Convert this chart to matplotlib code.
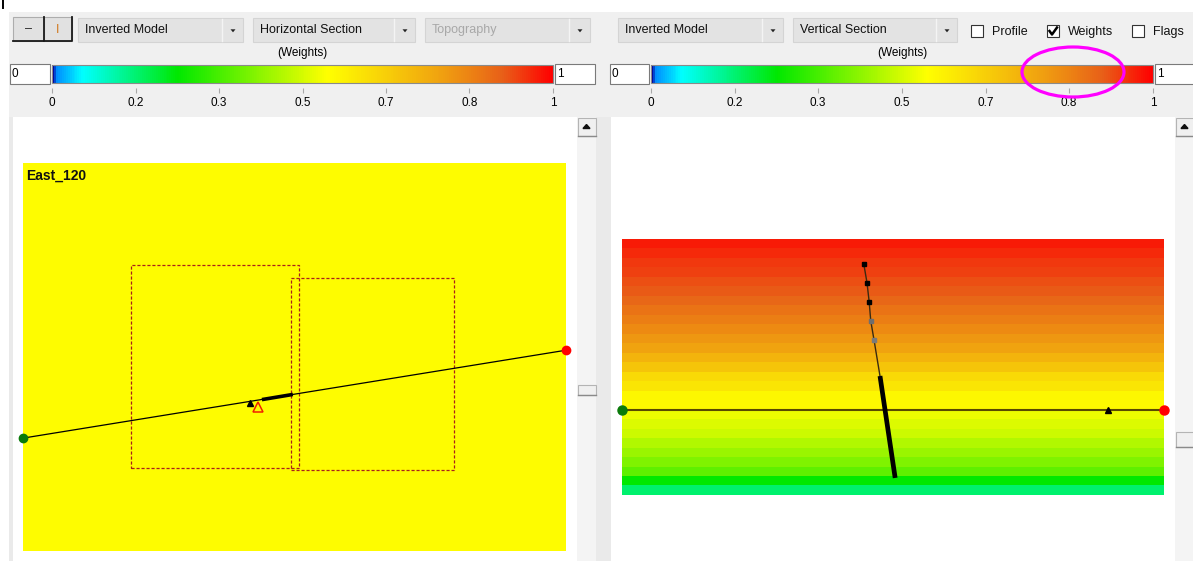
import numpy as np
import matplotlib
matplotlib.use("Agg")
import matplotlib.pyplot as plt
from matplotlib.patches import Rectangle, Ellipse, Polygon
from matplotlib.colors import LinearSegmentedColormap, Normalize
from matplotlib.colorbar import ColorbarBase

W, H = 1193, 561
plt.rcParams["font.family"] = ["Liberation Sans Narrow", "Liberation Sans", "DejaVu Sans"]

# --- data -------------------------------------------------------------------
cmap_pos = [0.0, 0.008, 0.06, 0.25, 0.55, 0.78, 0.90, 1.0]
cmap_col = ["#0000A0", "#0090FF", "#00FFFF", "#00E800", "#FFFF00",
            "#F0A010", "#E86018", "#FF0000"]
tick_pos = [0.0, 0.167, 0.333, 0.5, 0.667, 0.833, 1.0]
tick_labels = ["0", "0.2", "0.3", "0.5", "0.7", "0.8", "1"]

# horizontal section (arbitrary map units)
hs_weight = 0.555
hs_xlim = (0, 100)
hs_ylim = (0, 71.5)
profile_x = [0.0, 100.0]
profile_y = [20.8, 37.0]
well_hs_x = [44.0, 49.7]
well_hs_y = [27.9, 28.85]
station_hs = (41.8, 27.3)
marker_hs = (43.3, 26.6)
box1 = (19.9, 15.3, 30.9, 37.4)   # x, y, w, h
box2 = (49.4, 14.9, 30.0, 35.4)

# vertical section: weight of each depth band, top to bottom
band_w = [0.97, 0.956, 0.94, 0.93, 0.917, 0.905, 0.885, 0.86, 0.84, 0.82,
          0.795, 0.77, 0.73, 0.69, 0.64, 0.61, 0.57, 0.56, 0.53, 0.51,
          0.49, 0.46, 0.43, 0.40, 0.36, 0.25, 0.17]
vs_xlim = (0, 100)
vs_ylim = (0, 27)
vs_line_y = 9.0
vs_station = (89.7, 9.0)
well_x = [44.6, 45.2, 45.6, 45.9, 46.5, 47.6]
well_y = [24.4, 22.4, 20.4, 18.35, 16.35, 12.55]
well_mk_col = ["#000000", "#000000", "#000000", "#6E6E6E", "#7A7A7A"]
well_thick_x = [47.6, 50.4]
well_thick_y = [12.55, 1.8]

cmap = LinearSegmentedColormap.from_list("weights", list(zip(cmap_pos, cmap_col)))
norm = Normalize(0, 1)

fig = plt.figure(figsize=(W / 100, H / 100), dpi=100)


def px_axes(x, y, w, h, z=1):
    a = fig.add_axes([x / W, 1 - (y + h) / H, w / W, h / H])
    a.set_zorder(z)
    return a


# --- window chrome (pixel coordinates) -------------------------------------
bg = px_axes(0, 0, W, H, z=0)
bg.set_xlim(0, W)
bg.set_ylim(H, 0)
bg.axis("off")


def rect(x, y, w, h, fc, ec="none", lw=0.8, ax=bg):
    ax.add_patch(Rectangle((x, y), w, h, facecolor=fc, edgecolor=ec, linewidth=lw))


def down_arrow(cx, cy):
    bg.add_patch(Polygon([[cx - 2.5, cy - 1.2], [cx + 2.5, cy - 1.2], [cx, cy + 1.8]],
                         closed=True, color="#222222", linewidth=0))


def dropdown(x, w, label, grey=False):
    rect(x, 18, w, 24, "#E3E3E3", "#D4D4D4")
    bg.plot([x + w - 21, x + w - 21], [19, 41], color="#F4F4F4", lw=1)
    down_arrow(x + w - 10, 30.5)
    bg.text(x + 7, 30, label, fontsize=9, va="center", ha="left",
            color="#A8A8A8" if grey else "#111111")


def checkbox(x, label, checked=False):
    rect(x, 25, 12, 12, "white", "#333333", 0.8)
    if checked:
        bg.plot([x + 2.5, x + 5, x + 10], [31, 34.5, 27.5], color="black", lw=1.8)
    bg.text(x + 21, 31.5, label, fontsize=9, va="center", ha="left", color="#111111")


def colorbar_row(x0, bar_x, bar_w, box_w):
    rect(x0, 64, bar_x - x0 - 2, 20, "white", "#7A7A7A")
    bg.text(x0 + 2, 74, "0", fontsize=8.5, va="center", ha="left")
    rect(bar_x + bar_w + 2, 64, box_w, 20, "white", "#7A7A7A")
    bg.text(bar_x + bar_w + 4, 74, "1", fontsize=8.5, va="center", ha="left")
    cax = px_axes(bar_x, 65, bar_w, 18, z=2)
    cb = ColorbarBase(cax, cmap=cmap, norm=norm, orientation="horizontal")
    cb.set_ticks([])
    cb.outline.set_edgecolor("#8A8A8A")
    tax = px_axes(bar_x, 87, bar_w, 1, z=2)
    tax.set_xlim(0, 1)
    tax.set_frame_on(False)
    tax.set_yticks([])
    tax.set_xticks(tick_pos)
    tax.set_xticklabels(tick_labels)
    tax.tick_params(axis="x", direction="out", length=3.5, color="#A8A8A8",
                    labelsize=8.5, pad=3)
    bg.text(bar_x + bar_w / 2, 53, "(Weights)", fontsize=8.5, ha="center", va="center")


def scrollbar(x, thumb_y, thumb_h):
    rect(x, 117, 19, 444, "#F4F4F4")
    rect(x + 0.5, 117.5, 18, 18, "#F0F0F0", "#B4B4B4")
    bg.plot([x + 1, x + 18.5], [135.5, 135.5], color="#8A8A8A", lw=1)
    bg.add_patch(Polygon([[x + 6, 128.5], [x + 13, 128.5], [x + 9.5, 124.5]],
                         closed=True, color="#111111"))
    rect(x + 0.5, thumb_y, 18, thumb_h, "#F0F0F0", "#B4B4B4")
    bg.plot([x + 1, x + 18.5], [thumb_y + thumb_h, thumb_y + thumb_h], color="#8A8A8A", lw=1)


# top strip mark
bg.plot([2.5, 2.5], [0, 8], color="black", lw=1.4)
# grey panels
rect(9, 12, W - 9, 105, "#F0F0F0")
rect(9, 117, 4, 444, "#EAEAEA")
rect(596, 117, 15, 444, "#EAEAEA")

# left toolbar
rect(13, 17, 31, 24, "#E1E1E1", "#ADADAD")
rect(44, 17, 28, 24, "#E1E1E1", "#ADADAD")
for bx, bw in [(13, 31), (44, 28)]:
    bg.plot([bx, bx + bw, bx + bw], [41, 41, 17], color="#1A1A1A", lw=1.3)
bg.text(28.5, 29.5, "\u2013", fontsize=9, ha="center", va="center", color="#222222")
bg.text(58, 29.5, "I", fontsize=9, ha="center", va="center", color="#D07A20")
dropdown(78, 165, "Inverted Model")
dropdown(253, 162, "Horizontal Section")
dropdown(425, 165, "Topography", grey=True)

# right toolbar
dropdown(618, 165, "Inverted Model")
dropdown(793, 164, "Vertical Section")
checkbox(971, "Profile")
checkbox(1047, "Weights", checked=True)
checkbox(1132, "Flags")

colorbar_row(10, 52, 501, 40)
colorbar_row(610, 651, 502, 40)

scrollbar(577, 385, 10)
scrollbar(1175, 432, 15)

# --- horizontal section ----------------------------------------------------
ax = px_axes(23, 163, 543, 388, z=3)
ax.imshow([[hs_weight]], cmap=cmap, norm=norm, aspect="auto",
          extent=(*hs_xlim, *hs_ylim))
for bx, by, bw, bh in [box1, box2]:
    ax.add_patch(Rectangle((bx, by), bw, bh, fill=False, edgecolor="#A8201A",
                           linestyle=(0, (2.5, 1.5)), linewidth=0.9))
ax.plot(profile_x, profile_y, color="black", lw=0.9)
ax.plot(well_hs_x, well_hs_y, color="black", lw=2.6, solid_capstyle="butt")
ax.plot(*station_hs, marker="^", color="black", ms=4)
ax.plot(*marker_hs, marker="^", mfc="none", mec="#F02000", mew=1.1, ms=6.5)
ax.plot(profile_x[0], profile_y[0], "o", color="#0A7A0A", ms=6, clip_on=False)
ax.plot(profile_x[1], profile_y[1], "o", color="#FF0000", ms=6, clip_on=False)
ax.text(0.006, 0.985, "East_120", transform=ax.transAxes, fontsize=10,
        fontweight="bold", va="top", ha="left", color="#111111")
ax.set_xlim(*hs_xlim)
ax.set_ylim(*hs_ylim)
ax.axis("off")

# --- vertical section ------------------------------------------------------
ax = px_axes(622, 239, 542, 256, z=3)
ax.imshow(np.array(band_w)[:, None], cmap=cmap, norm=norm, aspect="auto",
          extent=(*vs_xlim, *vs_ylim), origin="upper")
ax.plot(vs_xlim, [vs_line_y, vs_line_y], color="#5A4A00", lw=1.5)
ax.plot(well_x, well_y, color="#3A2A10", lw=1.0)
for x, y, c in zip(well_x, well_y, well_mk_col):
    ax.plot(x, y, "s", color=c, ms=3.3)
ax.plot(well_thick_x, well_thick_y, color="black", lw=3.4, solid_capstyle="butt")
ax.plot(*vs_station, marker="^", color="black", ms=4.5)
ax.plot(vs_xlim[0], vs_line_y, "o", color="#0A7A0A", ms=6.5, clip_on=False)
ax.plot(vs_xlim[1], vs_line_y, "o", color="#FF0000", ms=6.5, clip_on=False)
ax.set_xlim(*vs_xlim)
ax.set_ylim(*vs_ylim)
ax.axis("off")

# --- highlight --------------------------------------------------------------
top = px_axes(0, 0, W, H, z=10)
top.set_xlim(0, W)
top.set_ylim(H, 0)
top.axis("off")
top.add_patch(Ellipse((1073, 72), 102, 50, fill=False, edgecolor="#FF00FF", linewidth=2.3))

fig.savefig("out.png", dpi=100)
